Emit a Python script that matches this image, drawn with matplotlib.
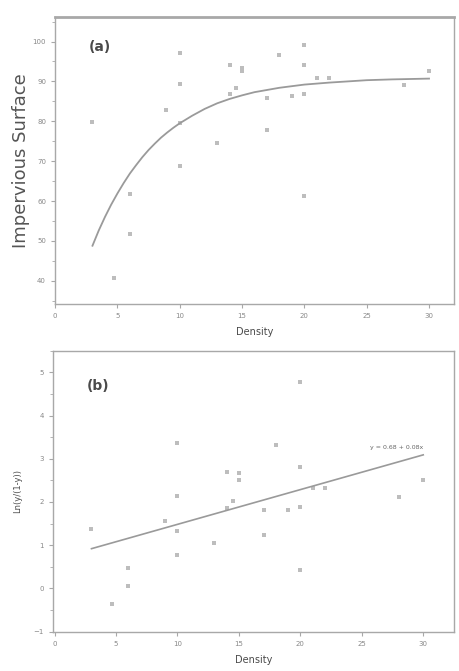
import matplotlib

matplotlib.use("Agg")
import matplotlib.pyplot as plt
from matplotlib.ticker import MultipleLocator

# panel (a): impervious surface vs density
density = [3, 4.7, 6, 6, 8.9, 10, 10, 10, 10, 13, 14, 14, 14.5, 15, 15,
           17, 17, 18, 19, 20, 20, 20, 20, 21, 22, 28, 30]
impervious = [79.7, 40.7, 61.7, 51.7, 82.8, 97, 89.3, 79.5, 68.7, 74.5, 94, 86.8,
              88.4, 93.4, 92.6, 85.9, 77.8, 96.5, 86.3, 99.2, 94.2, 86.8, 61.2,
              90.9, 90.9, 89, 92.6]

# fitted curve
curve_x = [3, 3.5, 4, 4.5, 5, 5.5, 6, 6.5, 7, 7.5, 8, 8.5, 9, 9.5, 10, 11, 12,
           13, 14, 15, 16, 18, 20, 22, 25, 27, 30]
curve_y = [48.8, 52.6, 56.0, 59.1, 61.9, 64.5, 66.9, 69.0, 71.0, 72.8, 74.4,
           75.9, 77.2, 78.4, 79.5, 81.4, 83.1, 84.5, 85.6, 86.5, 87.3, 88.4,
           89.2, 89.7, 90.3, 90.5, 90.7]

# panel (b): ln(y/(1-y)) vs density
logit = [1.37, -0.36, 0.47, 0.06, 1.57, 3.36, 2.13, 1.33, 0.78, 1.06, 2.70, 1.86,
         2.03, 2.67, 2.51, 1.82, 1.24, 3.32, 1.82, 4.78, 2.82, 1.88, 0.43,
         2.32, 2.32, 2.11, 2.51]
density_b = [3, 4.7, 6, 6, 9, 10, 10, 10, 10, 13, 14, 14, 14.5, 15, 15,
             17, 17, 18, 19, 20, 20, 20, 20, 21, 22, 28, 30]
line_x = [3, 30]
line_y = [0.92, 3.09]

GREY = "#9a9a9a"
TEXT = "#4a4a4a"

fig = plt.figure(figsize=(4.59, 6.71), dpi=100)
ax_a = fig.add_axes([0.120, 0.547, 0.869, 0.428])
ax_b = fig.add_axes([0.115, 0.0586, 0.874, 0.4188])


def style(ax):
    for sp in ax.spines.values():
        sp.set_color("#a8a8a8")
        sp.set_linewidth(1.0)
    ax.tick_params(which="both", direction="out", colors="#a8a8a8",
                   labelcolor="#888888", labelsize=5, length=3)
    ax.tick_params(which="minor", length=2)


ax_a.plot(curve_x, curve_y, color=GREY, lw=1.3)
ax_a.scatter(density, impervious, s=6, marker="s", color="#bdbdbd", linewidths=0)
ax_a.set_xlim(0, 32)
ax_a.set_ylim(34.2, 106.2)
ax_a.xaxis.set_major_locator(MultipleLocator(5))
ax_a.yaxis.set_major_locator(MultipleLocator(10))
ax_a.yaxis.set_minor_locator(MultipleLocator(5))
style(ax_a)
ax_a.spines["top"].set_linewidth(2.0)
ax_a.set_xlabel("Density", fontsize=7, color=TEXT, labelpad=6)
ax_a.set_ylabel("Impervious Surface", fontsize=13, color="#555555", labelpad=2)
ax_a.text(0.085, 0.88, "(a)", transform=ax_a.transAxes, fontsize=10,
          fontweight="bold", color=TEXT)

ax_b.plot(line_x, line_y, color=GREY, lw=1.2)
ax_b.scatter(density_b, logit, s=6, marker="s", color="#bdbdbd", linewidths=0)
ax_b.set_xlim(-0.15, 32.5)
ax_b.set_ylim(-1, 5.5)
ax_b.xaxis.set_major_locator(MultipleLocator(5))
ax_b.yaxis.set_major_locator(MultipleLocator(1))
ax_b.yaxis.set_minor_locator(MultipleLocator(0.5))
style(ax_b)
ax_b.set_xlabel("Density", fontsize=7, color=TEXT, labelpad=6)
ax_b.set_ylabel("Ln(y/(1-y))", fontsize=6, color=TEXT, labelpad=8)
ax_b.text(0.085, 0.86, "(b)", transform=ax_b.transAxes, fontsize=10,
          fontweight="bold", color=TEXT)
ax_b.text(30, 3.2, "y = 0.68 + 0.08x", fontsize=4.5, color="#666666",
          ha="right", va="bottom")

fig.savefig("out.png", dpi=100)
